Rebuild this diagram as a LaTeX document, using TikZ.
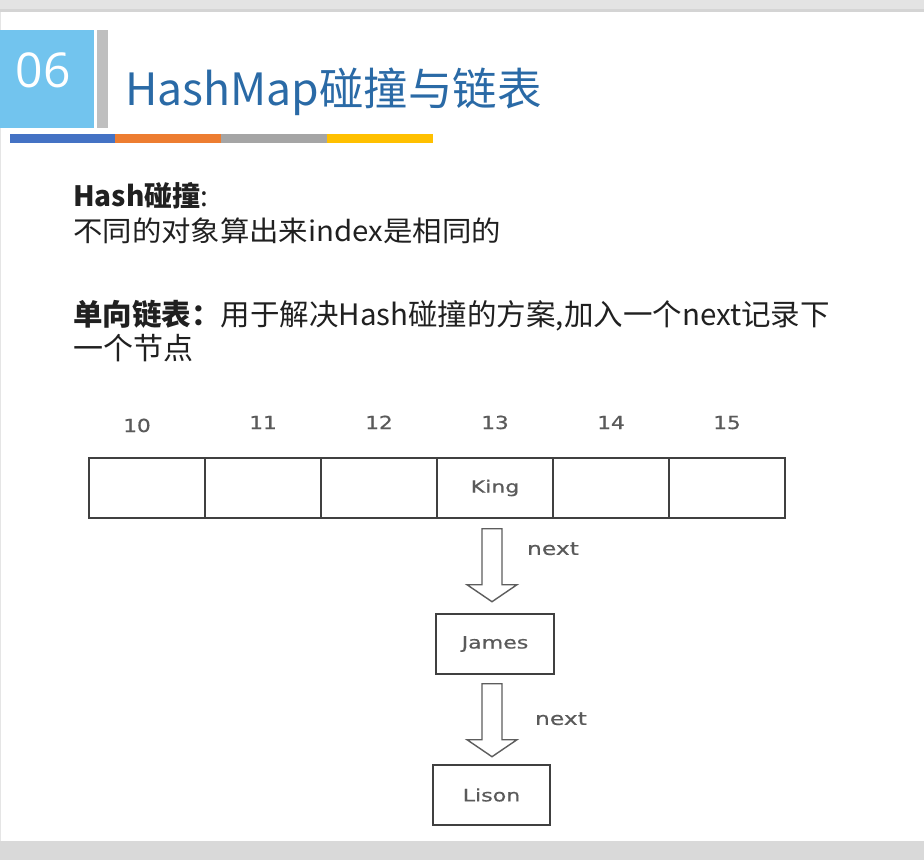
\documentclass[tikz,border=0pt]{standalone}
\usepackage{fontspec}
\usepackage{graphicx}
\setmainfont{Noto Sans CJK SC}
\newfontfamily\lblfont[FakeBold=0.6]{DejaVu Sans}
\newfontfamily\numfont{Open Sans}
\newcommand\widelbl[1]{\scalebox{1.3}[1]{#1}}
\usetikzlibrary{calc}
\definecolor{titleblue}{HTML}{2A6AA6}
\definecolor{squareblue}{HTML}{72C4EE}
\definecolor{bargray}{HTML}{BFBFBF}
\definecolor{cblue}{HTML}{4472C4}
\definecolor{corange}{HTML}{ED7D31}
\definecolor{cgray}{HTML}{A5A5A5}
\definecolor{cyellow}{HTML}{FFC000}
\definecolor{txt}{HTML}{202020}
\definecolor{lbl}{HTML}{5A5A5A}
\definecolor{boxline}{HTML}{404040}
\tikzset{
  cell/.style={draw=boxline, line width=1.4pt, minimum width=116pt, minimum height=60pt, inner sep=0pt,
    font=\lblfont\fontsize{17}{20}\selectfont, text=lbl},
  idx/.style={font=\lblfont\fontsize{18}{22}\selectfont, text=lbl, anchor=base, inner sep=0pt},
  nextlbl/.style={font=\lblfont\fontsize{18}{21}\selectfont, text=lbl, inner sep=0pt},
  arrowline/.style={draw=boxline!85, line width=1.4pt, fill=white, line join=miter},
  textline/.style={anchor=base west, inner sep=0pt, text=txt},
  blockdown/.pic={\draw[arrowline] (-10,0) -- (-10,56) -- (-25,56) -- (0,73) -- (25,56) -- (10,56) -- (10,0) -- cycle;}
}
\begin{document}
\begin{tikzpicture}[x=1pt,y=-1pt]
\useasboundingbox (0,0) rectangle (924,860);
\fill[white] (0,0) rectangle (924,860);
% top and bottom bands
\fill[black!11] (0,0) rectangle (924,12);
\fill[black!17] (0,9) rectangle (924,12);
\fill[black!15] (0,841) rectangle (924,860);
\draw[black!10, line width=1pt] (0.5,12) -- (0.5,841);
% header
\fill[squareblue] (0,30) rectangle (94,128);
\fill[bargray] (97,30) rectangle (108,128);
\node[text=white, font=\numfont\fontsize{48}{50}\selectfont, inner sep=0pt] (num) at (43,70) {06};
\node[textline, text=titleblue, font=\fontsize{44.5}{50}\selectfont] (title) at (125,105) {HashMap碰撞与链表};
\fill[cblue] (10,134) rectangle (115,143);
\fill[corange] (115,134) rectangle (221,143);
\fill[cgray] (221,134) rectangle (327,143);
\fill[cyellow] (327,134) rectangle (433,143);
% text
\node[textline, font=\fontsize{28}{30}\selectfont] (l1) at (73,206) {\textbf{Hash碰撞}:};
\node[textline, font=\fontsize{28}{30}\selectfont] (l2) at (73,241) {\scalebox{1.05}[1]{不同的对象算出来index是相同的}};
\node[textline, font=\fontsize{29.5}{34}\selectfont] (l3) at (73,325) {\textbf{单向链表：}用于解决Hash碰撞的方案,加入一个next记录下};
\node[textline, font=\fontsize{30}{34}\selectfont] (l4) at (73,359) {一个节点};
% array
\foreach \i/\x in {10/147,11/263,12/379,13/495,14/611,15/727} {
  \node[cell] (c\i) at (\x,488) {};
}
\node at (c13.center) [font=\lblfont\fontsize{17}{20}\selectfont, text=lbl] (king) {\widelbl{King}};
\node[idx] (i10) at (137,432) {\scalebox{1.2}[1]{10}};
\node[idx] (i11) at (263,429) {\scalebox{1.2}[1]{11}};
\node[idx] (i12) at (379,429) {\scalebox{1.2}[1]{12}};
\node[idx] (i13) at (495,429) {\scalebox{1.2}[1]{13}};
\node[idx] (i14) at (611,429) {\scalebox{1.2}[1]{14}};
\node[idx] (i15) at (727,429) {\scalebox{1.2}[1]{15}};
% list nodes
\node[cell, minimum width=118pt] (james) at (495,644) {\widelbl{James}};
\node[cell, minimum width=117pt] (lison) at (491.5,795) {\widelbl{Lison}};
% arrows
\pic at ($(c13.south)+(-3,10)$) {blockdown};
\pic at ($(james.south)+(-3,9)$) {blockdown};
\node[nextlbl] (n1) at ($(c13.south)+(58,30)$) {\widelbl{next}};
\node[nextlbl] (n2) at ($(james.south)+(66,44)$) {\widelbl{next}};
\end{tikzpicture}
\end{document}
